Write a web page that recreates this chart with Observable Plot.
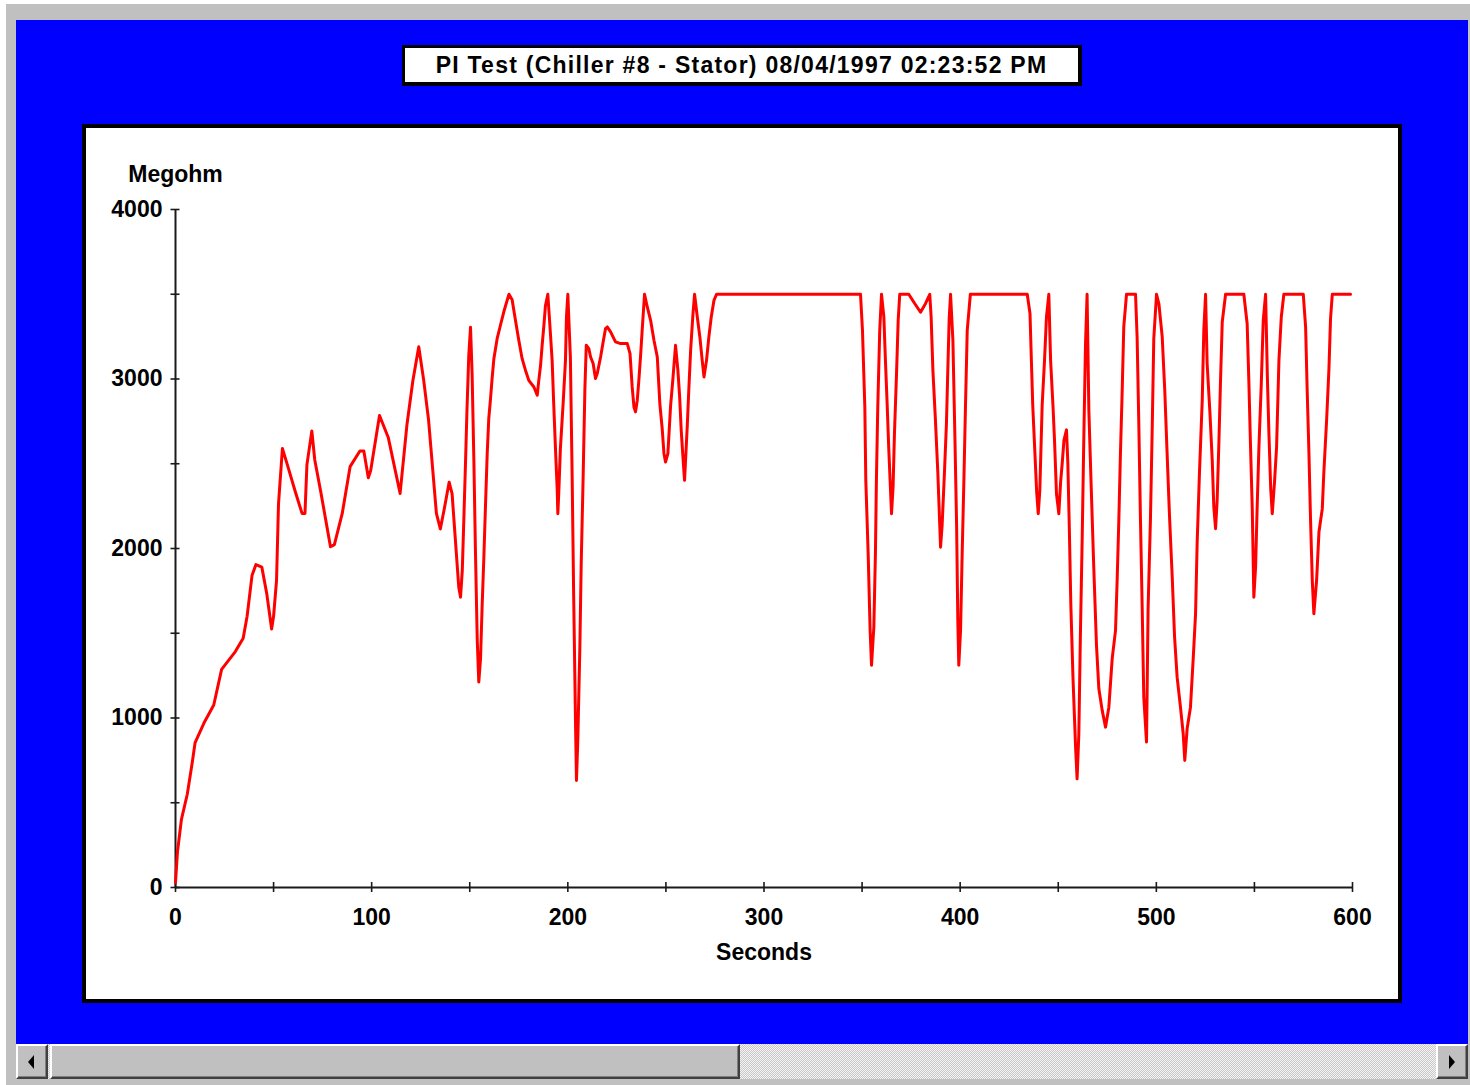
<!DOCTYPE html>
<html>
<head>
<meta charset="utf-8">
<script src="https://cdn.jsdelivr.net/npm/d3@7"></script>
<script src="https://cdn.jsdelivr.net/npm/@observablehq/plot@0.6"></script>
<style>
  html, body { margin: 0; padding: 0; }
  body { width: 1470px; height: 1085px; position: relative; background: #ffffff; overflow: hidden;
         font-family: "Liberation Sans", Arial, sans-serif; }
  .abs { position: absolute; box-sizing: border-box; }
  #grey { left: 6px; top: 4px; width: 1464px; height: 1081px; background: #c0c0c0; }
  #blue { left: 16px; top: 20px; width: 1452px; height: 1024px; background: #0000ff; }
  #titlebox { left: 402px; top: 45px; width: 680px; height: 41px; background: #fff;
              border: 3px solid #000; border-right-width: 4px; border-bottom-width: 4px;
              display: flex; align-items: center; justify-content: center;
              font-weight: bold; font-size: 23px; letter-spacing: 1.25px; color: #000; }
  #panel { left: 82px; top: 124px; width: 1320px; height: 879px; background: #fff;
           border: 4px solid #000; }
  #chart { left: 86px; top: 128px; }
  #scroll { left: 16px; top: 1044px; width: 1452px; height: 35px;
            background-color: #e6e6e6;
            background-image: repeating-conic-gradient(#c8c8c8 0% 25%, #f4f4f4 0% 50%);
            background-size: 2px 2px; }
  .btn { background: #c0c0c0; border-top: 2px solid #fff; border-left: 2px solid #fff;
         border-right: 2px solid #404040; border-bottom: 2px solid #404040;
         box-shadow: inset -1px -1px 0 #808080; }
  #lbtn { left: 16px; top: 1044px; width: 32px; height: 35px; }
  #thumb { left: 50px; top: 1044px; width: 690px; height: 35px; }
  #rbtn { left: 1436px; top: 1044px; width: 32px; height: 35px; }
  .tri { position: absolute; width: 0; height: 0; top: 9px; border-top: 7px solid transparent; border-bottom: 7px solid transparent; }
  #lbtn .tri { left: 10px; border-right: 6px solid #000; }
  #rbtn .tri { left: 11px; border-left: 6px solid #000; }
</style>
</head>
<body>
<div id="grey" class="abs"></div>
<div id="blue" class="abs"></div>
<div id="titlebox" class="abs">PI Test (Chiller #8 - Stator) 08/04/1997 02:23:52 PM</div>
<div id="panel" class="abs"></div>
<div id="chart" class="abs"></div>
<div id="scroll" class="abs"></div>
<div id="lbtn" class="abs btn"><div class="tri"></div></div>
<div id="thumb" class="abs btn"></div>
<div id="rbtn" class="abs btn"><div class="tri"></div></div>
<script>
const seconds = [
  0, 1, 3, 6, 8.5, 10, 14.5, 19.5, 23.5, 30.5, 34.5, 36.5, 39, 41, 44, 46.5, 49, 50, 51.5, 52.5,
  54.5, 57, 61, 64.5, 66, 67, 69.5, 71, 74, 79, 81, 85, 89, 94, 96, 98.3, 99.5, 104, 108.5, 114.5,
  118, 121, 124, 126.5, 129, 133, 135, 137, 139.5, 141, 142.7, 144.4, 145.3, 146.2, 147, 147.8, 148.6, 149.5, 150.4, 151.2,
  152.1, 152.9, 153.8, 154.6, 155.5, 156.3, 157.2, 158, 158.9, 159.7, 160.6, 161.4, 162.3, 164, 165.7, 167.4, 170, 171.6, 173.3, 175,
  176.7, 178.4, 180.1, 182.7, 184.4, 185.2, 186.1, 186.9, 187.8, 188.6, 189.8, 190.8, 192, 192.8, 193.7, 194.6, 194.9, 195.4, 196.2, 197.6,
  198.8, 199.3, 200, 201.3, 202.2, 203, 203.9, 204.4, 205.1, 206.1, 206.8, 207.8, 208.7, 209.4, 210.7, 211.6, 212.9, 214.1, 215, 216.7,
  218, 219.2, 220.1, 221.8, 224.3, 226.9, 230.3, 231.7, 232.8, 233.7, 234.5, 235.4, 236.2, 237.1, 237.9, 239.1, 240.5, 242.2, 243.9, 245.6,
  246.9, 248.1, 249, 249.8, 251, 252.4, 253.5, 254.9, 256.1, 257, 257.8, 258.9, 259.5, 260.9, 261.7, 262.6, 263.8, 264.6, 266, 267.3,
  268.5, 269.4, 270.7, 271.9, 273.1, 274.5, 275.8, 349.2, 350.2, 351.4, 351.9, 353.1, 354.1, 354.8, 356, 356.8, 357.3, 358, 359, 359.9,
  361.1, 361.9, 362.8, 363.6, 364.5, 365, 365.8, 366.5, 367.5, 368.4, 369.2, 373.8, 376.4, 379.8, 382.3, 384.5, 385.2, 386.1, 387.4, 388.6,
  389.6, 390, 390.8, 392, 393, 393.7, 394.4, 395.1, 396.3, 397.3, 398.2, 398.8, 399.3, 400.2, 401, 401.9, 402.7, 403.6, 405.2, 434.2,
  435.6, 436.3, 437, 438, 439, 439.8, 440.6, 441.8, 443, 444, 445.2, 446.1, 447.3, 448.1, 449.1, 450.3, 451.2, 452, 452.9, 454.2,
  454.9, 455.7, 456.4, 457.5, 458.8, 459.6, 460.5, 461.3, 462.2, 463, 463.9, 464.7, 465.6, 466.8, 468.1, 469.5, 470.7, 472.4, 474.1, 475.8,
  477.5, 479.2, 480, 480.9, 481.7, 482.6, 483.4, 484.8, 489.4, 490.2, 491.1, 491.9, 492.8, 493.6, 495, 495.8, 497, 497.9, 498.7, 500.1,
  501.3, 503, 504.3, 505.5, 506.7, 508.1, 509.3, 510.6, 512.3, 513.7, 514.5, 515.7, 517.4, 518.8, 520, 520.8, 522, 523.4, 524.2, 525.1,
  525.9, 527.3, 528.5, 529.3, 530.2, 531, 531.9, 532.7, 533.6, 535.3, 544.6, 546.3, 547.2, 548, 548.9, 549.7, 550.6, 551.4, 552.3, 553.5,
  554.5, 555.7, 556.6, 557.4, 558.3, 559.1, 560.3, 561.3, 562.5, 563.7, 565, 574.9, 576.1, 576.9, 577.8, 578.6, 579.5, 580.3, 581.7, 582.9,
  584.6, 585.4, 586.8, 588, 588.8, 589.7, 599
];
const megohm = [
  30, 210, 400, 550, 735, 855, 970, 1077, 1287, 1392, 1471, 1600, 1840, 1905, 1890, 1735, 1525, 1600, 1810, 2260,
  2590, 2495, 2338, 2207, 2207, 2495, 2693, 2522, 2338, 2010, 2023, 2207, 2483, 2575, 2575, 2417, 2460, 2785, 2653, 2325,
  2732, 2990, 3190, 2995, 2759, 2207, 2115, 2233, 2391, 2323, 2047, 1772, 1713, 1871, 2177, 2490, 2823, 3138, 3306, 3030,
  2520, 1988, 1468, 1212, 1350, 1656, 1950, 2245, 2560, 2767, 2885, 3004, 3120, 3240, 3320, 3398, 3500, 3467, 3346, 3229,
  3120, 3052, 2992, 2953, 2904, 2992, 3081, 3199, 3316, 3434, 3500, 3326, 3110, 2855, 2589, 2343, 2205, 2333, 2589, 2855,
  3110, 3366, 3500, 3130, 2422, 1704, 986, 631, 877, 1399, 1900, 2422, 2944, 3199, 3179, 3130, 3091, 3003, 3032, 3130,
  3219, 3297, 3307, 3278, 3219, 3209, 3209, 3150, 2953, 2835, 2806, 2875, 2992, 3140, 3288, 3500, 3425, 3346, 3229, 3130,
  2855, 2707, 2560, 2510, 2560, 2845, 2992, 3199, 3052, 2894, 2697, 2500, 2402, 2727, 2944, 3170, 3386, 3500, 3366, 3248,
  3110, 3012, 3110, 3248, 3366, 3464, 3500, 3500, 3287, 2835, 2402, 1970, 1517, 1311, 1537, 1970, 2402, 2835, 3287, 3500,
  3366, 3110, 2845, 2589, 2343, 2205, 2362, 2677, 3012, 3346, 3500, 3500, 3453, 3394, 3444, 3500, 3366, 3051, 2756, 2451,
  2136, 2008, 2136, 2451, 2736, 3051, 3356, 3500, 3228, 2668, 2127, 1576, 1311, 1517, 1959, 2402, 2835, 3287, 3500, 3500,
  3386, 3110, 2845, 2589, 2333, 2205, 2343, 2845, 3110, 3366, 3500, 3110, 2845, 2638, 2323, 2205, 2392, 2500, 2638, 2700,
  2500, 2087, 1674, 1241, 838, 641, 907, 1497, 2057, 2628, 3208, 3500, 2815, 2363, 1891, 1428, 1172, 1045, 946, 1064,
  1350, 1517, 1802, 2175, 2560, 2933, 3307, 3500, 3500, 3248, 2717, 2175, 1645, 1123, 858, 1645, 2175, 2706, 3238, 3500,
  3444, 3248, 2933, 2560, 2196, 1832, 1478, 1241, 1064, 907, 750, 936, 1064, 1350, 1615, 2028, 2451, 2874, 3287, 3500,
  3090, 2806, 2520, 2245, 2117, 2284, 2628, 2982, 3336, 3500, 3500, 3326, 2972, 2609, 2235, 1713, 1891, 2245, 2599, 2972,
  3346, 3500, 3012, 2677, 2353, 2205, 2402, 2599, 3110, 3366, 3500, 3500, 3307, 2933, 2560, 2175, 1812, 1615, 1812, 2097,
  2235, 2451, 2756, 3061, 3356, 3500, 3500
];
const yLabelTicks = [0, 1000, 2000, 3000, 4000];
const yMinorTicks = [0, 500, 1000, 1500, 2000, 2500, 3000, 3500, 4000];
const xLabelTicks = [0, 100, 200, 300, 400, 500, 600];
const xMinorTicks = [0, 50, 100, 150, 200, 250, 300, 350, 400, 450, 500, 550, 600];
const xTitle = "Seconds";
const yTitle = "Megohm";

const points = seconds.map((s, i) => ({s, v: megohm[i]}));
const axisColor = "#1a1a1a";

const chart = Plot.plot({
  width: 1312,
  height: 871,
  marginLeft: 89,
  marginRight: 46,
  marginTop: 81,
  marginBottom: 112,
  style: {fontFamily: "'Liberation Sans', Arial, sans-serif", fontSize: "23px", fontWeight: "bold", color: "#000", background: "transparent", overflow: "visible"},
  x: {domain: [0, 600]},
  y: {domain: [0, 4000]},
  marks: [
    Plot.ruleX([0], {y1: 0, y2: 4000, stroke: axisColor, strokeWidth: 2}),
    Plot.ruleY([0], {x1: 0, x2: 600, stroke: axisColor, strokeWidth: 2}),
    Plot.axisY(yMinorTicks, {tickSize: 9, dx: 4.5, tickFormat: () => "", label: null, stroke: axisColor, strokeWidth: 1.6}),
    Plot.axisY(yLabelTicks, {tickSize: 0, tickPadding: 13, tickFormat: d => String(d), label: null, fill: "#000"}),
    Plot.axisX(xMinorTicks, {tickSize: 10, dy: -5, tickFormat: () => "", label: null, stroke: axisColor, strokeWidth: 1.6}),
    Plot.axisX(xLabelTicks, {tickSize: 0, tickPadding: 21, tickFormat: d => String(d), label: null, fill: "#000"}),
    Plot.text([yTitle], {frameAnchor: "top-left", text: d => d, dy: -35, textAnchor: "middle", lineAnchor: "middle", fill: "#000"}),
    Plot.text([xTitle], {frameAnchor: "bottom", text: d => d, dy: 65, textAnchor: "middle", lineAnchor: "middle", fill: "#000"}),
    Plot.line(points, {x: "s", y: "v", stroke: "#ff0000", strokeWidth: 3})
  ]
});
document.getElementById("chart").appendChild(chart);
</script>
</body>
</html>
